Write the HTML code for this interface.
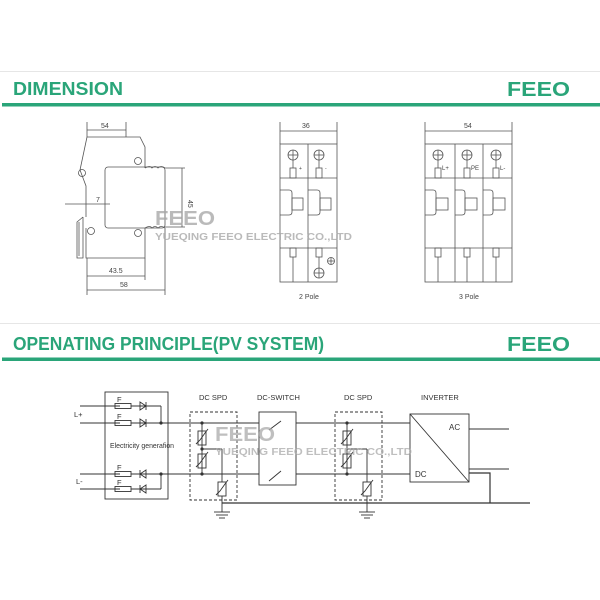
<!DOCTYPE html>
<html><head><meta charset="utf-8"><style>
html,body{margin:0;padding:0;background:#fff}
svg{display:block}
</style></head><body>
<svg width="600" height="600" viewBox="0 0 600 600" xmlns="http://www.w3.org/2000/svg" font-family="Liberation Sans, sans-serif">
<line x1="0" y1="71.5" x2="600" y2="71.5" stroke="#e6e6e6" stroke-width="1"/>
<text x="13" y="95" font-size="18" font-weight="bold" fill="#2aa579" textLength="110" lengthAdjust="spacingAndGlyphs">DIMENSION</text>
<text x="507" y="96" font-size="20" font-weight="bold" fill="#2aa579" textLength="63" lengthAdjust="spacingAndGlyphs">FEEO</text>
<rect x="2" y="103" width="598" height="3.5" fill="#2aa579"/>
<line x1="0" y1="323.5" x2="600" y2="323.5" stroke="#e6e6e6" stroke-width="1"/>
<text x="13" y="350" font-size="18" font-weight="bold" fill="#2aa579" textLength="311" lengthAdjust="spacingAndGlyphs">OPENATING PRINCIPLE(PV SYSTEM)</text>
<text x="507" y="351" font-size="20" font-weight="bold" fill="#2aa579" textLength="63" lengthAdjust="spacingAndGlyphs">FEEO</text>
<rect x="2" y="357.5" width="598" height="3.5" fill="#2aa579"/>

<g stroke="#555" stroke-width="0.8" fill="none">
<path d="M87 137 H140 L145 147 V168"/>
<path d="M87 137 L80 170 L86 186 V217"/>
<circle cx="82" cy="173" r="3.5"/>
<circle cx="138" cy="161" r="3.5"/>
<rect x="105" y="167" width="60" height="61" rx="3"/>
<path d="M145 168 Q150 165 152 168 Q155 165 158 168 Q161 165 165 168"/>
<path d="M145 228 Q150 225 152 228 Q155 225 158 228 Q161 225 165 228"/>
<circle cx="138" cy="233" r="3.5"/>
<circle cx="91" cy="231" r="3.5"/>
<path d="M86 228 V258 H145 V228"/>
<path d="M83 217 L77 222 V258 H83 V217"/>
<line x1="79" y1="222" x2="79" y2="256"/>
<line x1="87" y1="122" x2="87" y2="137"/><line x1="126" y1="122" x2="126" y2="137"/>
<line x1="87" y1="130" x2="126" y2="130"/>
<line x1="165" y1="168" x2="185" y2="168"/><line x1="165" y1="227" x2="185" y2="227"/>
<line x1="182" y1="168" x2="182" y2="227"/>
<line x1="65" y1="204" x2="110" y2="204"/>
<line x1="87" y1="258" x2="87" y2="295"/><line x1="145" y1="258" x2="145" y2="280"/><line x1="165" y1="228" x2="165" y2="295"/>
<line x1="87" y1="276" x2="145" y2="276"/>
<line x1="87" y1="290" x2="165" y2="290"/>
</g>
<g font-size="7" fill="#444">
<text x="101" y="128">54</text>
<text x="96" y="202">7</text>
<text x="109" y="273">43.5</text>
<text x="120" y="287">58</text>
<text x="188" y="200" transform="rotate(90 188 200)">45</text>
</g>

<g stroke="#555" stroke-width="0.8" fill="none">
<line x1="280" y1="122" x2="280" y2="144"/><line x1="337" y1="122" x2="337" y2="144"/>
<line x1="280" y1="131" x2="337" y2="131"/>
<rect x="280" y="144" width="57" height="138"/>
<line x1="308" y1="144" x2="308" y2="282"/>
<line x1="280" y1="178" x2="337" y2="178"/>
<line x1="280" y1="248" x2="337" y2="248"/>
<circle cx="293" cy="155" r="5"/><line x1="288" y1="155" x2="298" y2="155"/><line x1="293" y1="150" x2="293" y2="168"/>
<rect x="290" y="168" width="6" height="10"/>
<circle cx="319" cy="155" r="5"/><line x1="314" y1="155" x2="324" y2="155"/><line x1="319" y1="150" x2="319" y2="168"/>
<rect x="316" y="168" width="6" height="10"/>
<path d="M280 190 H289 Q292 190 292 193 V212 Q292 215 289 215 H280"/><rect x="292" y="198" width="11" height="12"/>
<path d="M308 190 H317 Q320 190 320 193 V212 Q320 215 317 215 H308"/><rect x="320" y="198" width="11" height="12"/>
<rect x="290" y="248" width="6" height="9"/><line x1="293" y1="257" x2="293" y2="282"/>
<rect x="316" y="248" width="6" height="9"/><line x1="319" y1="257" x2="319" y2="268"/>
<circle cx="319" cy="273" r="5"/><line x1="314" y1="273" x2="324" y2="273"/><line x1="319" y1="268" x2="319" y2="278"/>
<circle cx="331" cy="261" r="3.5"/><line x1="327.5" y1="261" x2="334.5" y2="261"/><line x1="331" y1="257.5" x2="331" y2="264.5"/>
</g>
<g font-size="7" fill="#444">
<text x="302" y="128">36</text>
<text x="299" y="170" font-size="5">+</text>
<text x="325" y="170" font-size="5">-</text>
<text x="299" y="299">2 Pole</text>
</g>

<g stroke="#555" stroke-width="0.8" fill="none">
<line x1="425" y1="122" x2="425" y2="144"/><line x1="512" y1="122" x2="512" y2="144"/>
<line x1="425" y1="131" x2="512" y2="131"/>
<rect x="425" y="144" width="87" height="138"/>
<line x1="455" y1="144" x2="455" y2="282"/><line x1="483" y1="144" x2="483" y2="282"/>
<line x1="425" y1="178" x2="512" y2="178"/>
<line x1="425" y1="248" x2="512" y2="248"/>
<circle cx="438" cy="155" r="5"/><line x1="433" y1="155" x2="443" y2="155"/><line x1="438" y1="150" x2="438" y2="168"/><rect x="435" y="168" width="6" height="10"/>
<circle cx="467" cy="155" r="5"/><line x1="462" y1="155" x2="472" y2="155"/><line x1="467" y1="150" x2="467" y2="168"/><rect x="464" y="168" width="6" height="10"/>
<circle cx="496" cy="155" r="5"/><line x1="491" y1="155" x2="501" y2="155"/><line x1="496" y1="150" x2="496" y2="168"/><rect x="493" y="168" width="6" height="10"/>
<path d="M425 190 H433 Q436 190 436 193 V212 Q436 215 433 215 H425"/><rect x="436" y="198" width="12" height="12"/>
<path d="M455 190 H462 Q465 190 465 193 V212 Q465 215 462 215 H455"/><rect x="465" y="198" width="12" height="12"/>
<path d="M483 190 H490 Q493 190 493 193 V212 Q493 215 490 215 H483"/><rect x="493" y="198" width="12" height="12"/>
<rect x="435" y="248" width="6" height="9"/><line x1="438" y1="257" x2="438" y2="282"/>
<rect x="464" y="248" width="6" height="9"/><line x1="467" y1="257" x2="467" y2="282"/>
<rect x="493" y="248" width="6" height="9"/><line x1="496" y1="257" x2="496" y2="282"/>
</g>
<g font-size="7" fill="#444">
<text x="464" y="128">54</text>
<text x="442" y="170" font-size="6">L+</text>
<text x="471" y="170" font-size="6">PE</text>
<text x="500" y="170" font-size="6">L-</text>
<text x="459" y="299">3 Pole</text>
</g>

<text x="155" y="225" font-size="20" font-weight="bold" fill="#aaa" opacity="0.8" textLength="60" lengthAdjust="spacingAndGlyphs">FEEO</text>
<text x="155" y="240" font-size="10" font-weight="bold" fill="#aaa" opacity="0.8" textLength="197" lengthAdjust="spacingAndGlyphs">YUEQING FEEO ELECTRIC CO.,LTD</text>

<g stroke="#333" stroke-width="0.9" fill="none">
<rect x="105" y="392" width="63" height="107"/>
<line x1="80" y1="406" x2="120" y2="406"/><line x1="80" y1="423" x2="120" y2="423"/>
<line x1="80" y1="474" x2="120" y2="474"/><line x1="80" y1="489" x2="120" y2="489"/>
<rect x="115" y="403.5" width="16" height="5"/><rect x="115" y="420.5" width="16" height="5"/>
<rect x="115" y="471.5" width="16" height="5"/><rect x="115" y="486.5" width="16" height="5"/>
<line x1="131" y1="406" x2="161" y2="406"/><line x1="131" y1="423" x2="410" y2="423"/>
<line x1="131" y1="474" x2="410" y2="474"/><line x1="131" y1="489" x2="161" y2="489"/>
<line x1="161" y1="406" x2="161" y2="423"/><line x1="161" y1="474" x2="161" y2="489"/>
<path d="M140 402 L146 406 L140 410 Z M146 402 V410"/>
<path d="M140 419 L146 423 L140 427 Z M146 419 V427"/>
<path d="M146 470 L140 474 L146 478 Z M140 470 V478"/>
<path d="M146 485 L140 489 L146 493 Z M140 485 V493"/>
<rect x="190" y="412" width="47" height="88" stroke-dasharray="3,2"/>
<line x1="202" y1="423" x2="202" y2="474"/>
<rect x="198" y="431" width="8" height="14"/><path d="M196 444 L200 440 L205 433 L208 429"/>
<rect x="198" y="454" width="8" height="14"/><path d="M196 467 L200 463 L205 456 L208 452"/>
<line x1="202" y1="449" x2="222" y2="449"/><line x1="222" y1="449" x2="222" y2="482"/>
<rect x="218" y="482" width="8" height="14"/><path d="M216 495 L220 491 L225 484 L228 480"/>
<line x1="222" y1="496" x2="222" y2="512"/>
<line x1="214" y1="512" x2="230" y2="512"/><line x1="216" y1="515" x2="228" y2="515"/><line x1="219" y1="518" x2="225" y2="518"/>
<rect x="259" y="412" width="37" height="73" fill="#fff"/>
<line x1="269" y1="430" x2="281" y2="421"/><line x1="269" y1="481" x2="281" y2="471"/>
<rect x="335" y="412" width="47" height="88" stroke-dasharray="3,2"/>
<line x1="347" y1="423" x2="347" y2="474"/>
<rect x="343" y="431" width="8" height="14"/><path d="M341 444 L345 440 L350 433 L353 429"/>
<rect x="343" y="454" width="8" height="14"/><path d="M341 467 L345 463 L350 456 L353 452"/>
<line x1="347" y1="449" x2="367" y2="449"/><line x1="367" y1="449" x2="367" y2="482"/>
<rect x="363" y="482" width="8" height="14"/><path d="M361 495 L365 491 L370 484 L373 480"/>
<line x1="367" y1="496" x2="367" y2="512"/>
<line x1="359" y1="512" x2="375" y2="512"/><line x1="361" y1="515" x2="373" y2="515"/><line x1="364" y1="518" x2="370" y2="518"/>
<line x1="222" y1="503" x2="530" y2="503" stroke-width="1.2"/>
<rect x="410" y="414" width="59" height="68" fill="#fff"/>
<line x1="410" y1="414" x2="469" y2="482"/>
<line x1="469" y1="429" x2="509" y2="429"/>
<line x1="469" y1="469" x2="509" y2="469"/>
<path d="M469 473 H490 V503" stroke-width="1.2"/>
</g>
<circle cx="161" cy="423" r="1.6" fill="#333"/><circle cx="161" cy="474" r="1.6" fill="#333"/>
<circle cx="202" cy="423" r="1.6" fill="#333"/><circle cx="202" cy="449" r="1.6" fill="#333"/><circle cx="202" cy="474" r="1.6" fill="#333"/>
<circle cx="347" cy="423" r="1.6" fill="#333"/><circle cx="347" cy="474" r="1.6" fill="#333"/>
<g font-size="7.5" fill="#333">
<text x="117" y="402">F</text><text x="117" y="419">F</text>
<text x="117" y="470">F</text><text x="117" y="485">F</text>
<text x="74" y="417">L+</text><text x="76" y="484">L-</text>
<text x="110" y="448" textLength="64" lengthAdjust="spacingAndGlyphs">Electricity generafion</text>
<text x="199" y="400">DC SPD</text>
<text x="257" y="400">DC-SWITCH</text>
<text x="344" y="400">DC SPD</text>
<text x="421" y="400">INVERTER</text>
<text x="449" y="430" font-size="8">AC</text>
<text x="415" y="477" font-size="8">DC</text>
</g>
<text x="215" y="441" font-size="20" font-weight="bold" fill="#aaa" opacity="0.75" textLength="60" lengthAdjust="spacingAndGlyphs">FEEO</text>
<text x="215" y="455" font-size="10" font-weight="bold" fill="#aaa" opacity="0.75" textLength="197" lengthAdjust="spacingAndGlyphs">YUEQING FEEO ELECTRIC CO.,LTD</text>
</svg>
</body></html>
